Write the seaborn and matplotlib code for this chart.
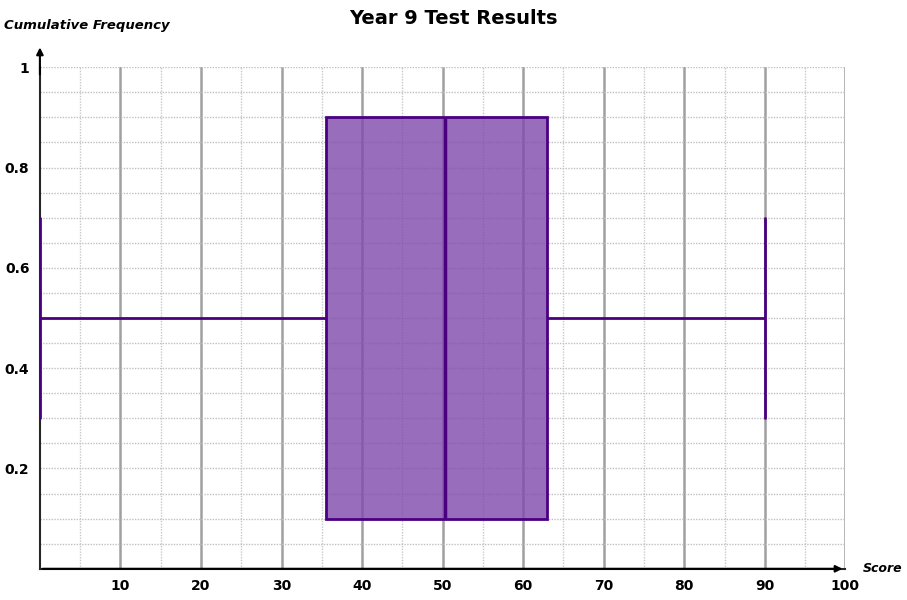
import matplotlib
matplotlib.use("Agg")
import matplotlib.pyplot as plt
import seaborn as sns
import numpy as np
import pandas as pd

five_numbers = [0, 35.5, 50.3, 63, 90]
x_ticks = [10, 20, 30, 40, 50, 60, 70, 80, 90, 100]
y_ticks = [0.2, 0.4, 0.6, 0.8, 1]

sns.set_style("white")
plt.rcParams['font.family'] = ['DejaVu Sans']
plt.rcParams['text.color'] = 'black'
plt.rcParams['xtick.color'] = 'black'
plt.rcParams['ytick.color'] = 'black'
fig, ax = plt.subplots(figsize=(9.07, 6.0), dpi=100)
fig.subplots_adjust(left=0.044, right=0.932, bottom=0.052, top=0.888)

df = pd.DataFrame({"Score": five_numbers, "pos": [0.5] * 5})
purple = "#4b0082"
sns.boxplot(data=df, x="Score", y="pos", orient="h", native_scale=True,
            width=0.8, whis=np.inf, ax=ax,
            boxprops=dict(facecolor="#9467bd", edgecolor=purple, linewidth=2),
            whiskerprops=dict(color=purple, linewidth=2),
            capprops=dict(color=purple, linewidth=2),
            medianprops=dict(color=purple, linewidth=2.5), zorder=3)
for p in ax.patches:
    p.set_facecolor((0.50, 0.30, 0.68, 0.82))

ax.set_xlim(0, 100)
ax.set_ylim(0, 1)
for v in np.arange(5, 100.1, 5):
    if v % 10 == 0:
        ax.axvline(v, color="#a0a0a0", lw=1.8, zorder=4 if False else 1)
    else:
        ax.axvline(v, color="#c8c8c8", lw=1, ls=(0, (1, 1)), zorder=1)
for v in np.arange(0.05, 1.01, 0.05):
    ax.axhline(v, color="#c0c0c0", lw=1, ls=(0, (1, 1)), zorder=1)

ax.set_xticks(x_ticks)
ax.set_xticklabels([str(t) for t in x_ticks], fontsize=10, fontweight="bold")
ax.set_yticks(y_ticks)
ax.set_yticklabels(["0.2", "0.4", "0.6", "0.8", "1"], fontsize=10, fontweight="bold")
ax.tick_params(length=4, width=1, direction="out")
ax.set_xlabel("")
ax.set_ylabel("")
for s in ["top", "right"]:
    ax.spines[s].set_visible(False)
ax.spines["left"].set_linewidth(1.5)
ax.spines["bottom"].set_linewidth(1.5)
ax.annotate("", xy=(1.0, 0), xytext=(0, 0), xycoords="axes fraction",
            arrowprops=dict(arrowstyle="-|>", color="black", lw=1.5), annotation_clip=False)
ax.annotate("", xy=(0, 1.045), xytext=(0, 0.98), xycoords="axes fraction",
            arrowprops=dict(arrowstyle="-|>", color="black", lw=1.5), annotation_clip=False)
ax.text(1.022, 0, "Score", transform=ax.transAxes, fontsize=9, fontweight="bold",
        style="italic", va="center", ha="left")
ax.text(-0.045, 1.07, "Cumulative Frequency", transform=ax.transAxes, fontsize=9.5,
        fontweight="bold", style="italic", va="bottom", ha="left")
fig.suptitle("Year 9 Test Results", fontsize=14, fontweight="bold", y=0.985)
fig.savefig("out.png", dpi=100)
